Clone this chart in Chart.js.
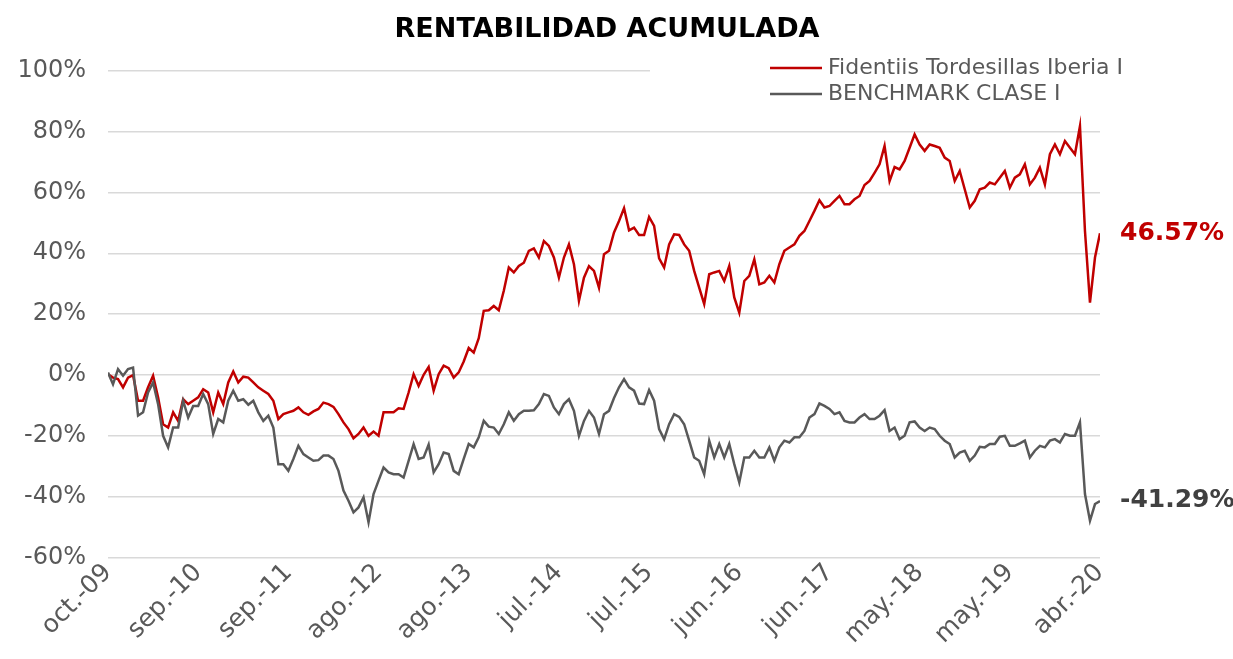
<!DOCTYPE html>
<html>
<head>
<meta charset="utf-8">
<title>Rentabilidad acumulada</title>
<script src="https://cdn.jsdelivr.net/npm/chart.js@4.4.1/dist/chart.umd.min.js"></script>
<style>
    html, body { margin: 0; padding: 0; background: #fff; }
    #wrap { width: 1233px; height: 659px; }
</style>
</head>
<body>
<div id="wrap"><canvas id="rent-chart"></canvas></div>
<script>
/* Rentabilidad acumulada: fondo vs benchmark */

const xLabels = ['oct.-09', 'sep.-10', 'sep.-11', 'ago.-12', 'ago.-13', 'jul.-14',
                 'jul.-15', 'jun.-16', 'jun.-17', 'may.-18', 'may.-19', 'abr.-20'];

const fundName = 'Fidentiis Tordesillas Iberia I';
const benchName = 'BENCHMARK CLASE I';

// rentabilidad acumulada del fondo, %
const fundValues = [
    0.3, -0.8, -1.3, -4.0, -0.8, 0.0, -8.4, -8.4, -4.0, -0.2,
    -7.3, -16.1, -17.2, -12.2, -15.0, -7.9, -9.5, -8.4, -7.3, -4.6,
    -5.7, -12.2, -5.7, -9.5, -2.4, 1.2, -2.4, -0.5, -0.8, -2.4,
    -4.0, -5.1, -6.2, -8.4, -14.4, -12.8, -12.2, -11.7, -10.6, -12.2,
    -13.0, -11.9, -11.1, -9.0, -9.5, -10.4, -12.8, -15.5, -17.7, -20.7,
    -19.3, -17.2, -19.9, -18.5, -19.9, -12.2, -12.2, -12.2, -10.9, -11.1,
    -5.7, 0.3, -3.5, 0.1, 2.7, -5.1, 0.3, 3.1, 2.3, -0.8,
    0.9, 4.5, 8.9, 7.4, 12.1, 21.1, 21.3, 22.7, 21.3, 27.7,
    35.3, 33.7, 35.8, 36.9, 40.8, 41.6, 38.6, 44.0, 42.4, 38.6,
    32.0, 38.6, 42.9, 36.4, 24.4, 32.0, 35.8, 34.2, 28.7, 39.7,
    40.8, 46.8, 50.6, 54.8, 47.5, 48.4, 46.0, 46.0, 51.9, 49.0,
    38.3, 35.3, 42.9, 46.2, 46.0, 42.9, 40.8, 34.2, 28.7, 23.3,
    33.1, 33.7, 34.2, 30.9, 35.8, 25.5, 20.5, 30.9, 32.6, 38.0,
    29.8, 30.4, 32.6, 30.4, 36.4, 40.8, 41.9, 42.9, 45.7, 47.3,
    50.6, 53.9, 57.4, 55.0, 55.5, 57.2, 58.8, 56.1, 56.1, 57.7,
    58.8, 62.4, 63.7, 66.4, 69.2, 75.2, 63.7, 68.3, 67.5, 70.3,
    74.6, 79.0, 75.7, 73.6, 75.7, 75.2, 74.6, 71.4, 70.3, 63.7,
    67.0, 61.0, 55.0, 57.2, 61.0, 61.5, 63.2, 62.6, 64.8, 67.0,
    61.5, 64.8, 65.9, 69.2, 62.6, 64.8, 68.1, 62.6, 72.5, 75.7,
    72.5, 76.8, 74.6, 72.5, 81.7, 47.3, 23.8, 38.6, 46.57
];

// rentabilidad acumulada del benchmark, %
const benchValues = [
    0.9, -3.0, 2.0, -0.2, 2.0, 2.5, -13.3, -12.2, -5.7, -2.4,
    -9.5, -19.9, -23.7, -17.2, -17.2, -8.4, -13.9, -10.1, -10.1, -6.2,
    -9.5, -19.3, -14.4, -15.5, -8.4, -5.1, -8.4, -7.9, -9.7, -8.4,
    -12.2, -15.0, -13.3, -17.2, -29.2, -29.2, -31.4, -27.5, -23.2, -25.9,
    -27.0, -28.1, -27.9, -26.4, -26.4, -27.5, -31.4, -37.9, -41.2, -45.0,
    -43.4, -40.1, -48.3, -39.0, -34.6, -30.3, -31.9, -32.5, -32.5, -33.6,
    -28.1, -22.6, -27.5, -27.0, -22.8, -31.9, -29.2, -25.4, -25.9, -31.4,
    -32.5, -27.5, -22.6, -23.7, -20.4, -15.0, -16.9, -17.2, -19.3, -16.1,
    -12.2, -15.0, -12.8, -11.7, -11.7, -11.5, -9.5, -6.2, -6.8, -10.6,
    -12.8, -9.5, -7.9, -11.7, -19.9, -15.0, -11.7, -13.9, -19.3, -12.8,
    -11.7, -7.5, -4.0, -1.3, -4.0, -5.1, -9.3, -9.5, -4.9, -8.4,
    -17.7, -21.0, -16.1, -12.8, -13.7, -16.1, -21.5, -27.0, -28.1, -32.5,
    -21.5, -27.0, -22.6, -27.0, -22.6, -29.2, -35.2, -27.0, -27.0, -24.8,
    -27.0, -27.0, -23.7, -28.1, -23.7, -21.5, -22.1, -20.4, -20.4, -18.3,
    -13.9, -12.8, -9.3, -10.1, -11.1, -12.8, -12.2, -15.0, -15.5, -15.5,
    -13.9, -12.8, -14.4, -14.4, -13.3, -11.5, -18.3, -17.2, -21.0, -19.9,
    -15.5, -15.2, -17.2, -18.3, -17.2, -17.7, -19.9, -21.5, -22.6, -27.0,
    -25.4, -24.8, -28.1, -26.4, -23.5, -23.7, -22.6, -22.6, -20.2, -19.9,
    -23.2, -23.2, -22.4, -21.5, -27.0, -24.8, -23.2, -23.7, -21.5, -21.0,
    -22.1, -19.3, -19.9, -19.9, -15.5, -39.0, -47.8, -42.3, -41.29
];

const FONT = '"DejaVu Sans", Verdana, sans-serif';
const RED = '#c00000';
const GREY = '#595959';

const labelStep = (fundValues.length - 1) / (xLabels.length - 1);

// leyenda dentro del area (tapa la rejilla como en Excel) + etiquetas finales
const extrasPlugin = {
    id: 'extras',
    beforeDatasetsDraw(chart) {
        const ctx = chart.ctx;
        const a = chart.chartArea;
        ctx.save();
        ctx.fillStyle = '#ffffff';
        ctx.fillRect(650, a.top - 14, a.right - 650 + 2, 40);

        const items = [
            { text: fundName, color: RED, y: 68 },
            { text: benchName, color: GREY, y: 94 },
        ];
        ctx.font = '22px ' + FONT;
        ctx.textBaseline = 'middle';
        ctx.textAlign = 'left';
        for (const it of items) {
            ctx.strokeStyle = it.color;
            ctx.lineWidth = 2.5;
            ctx.beginPath();
            ctx.moveTo(770, it.y);
            ctx.lineTo(822, it.y);
            ctx.stroke();
            ctx.fillStyle = GREY;
            ctx.fillText(it.text, 828, it.y);
        }
        ctx.restore();
    },
    afterDatasetsDraw(chart) {
        const ctx = chart.ctx;
        ctx.save();
        ctx.font = 'bold 25px ' + FONT;
        ctx.textBaseline = 'middle';
        ctx.textAlign = 'left';
        const colors = [RED, '#404040'];
        chart.data.datasets.forEach((ds, i) => {
            const meta = chart.getDatasetMeta(i);
            const pt = meta.data[meta.data.length - 1];
            const v = ds.data[ds.data.length - 1];
            ctx.fillStyle = colors[i];
            ctx.fillText(v.toFixed(2) + '%', pt.x + 20, pt.y);
        });
        ctx.restore();
    }
};

const ctx = document.getElementById('rent-chart');

new Chart(ctx.getContext('2d'), {
    type: 'line',
    data: {
        labels: fundValues.map((_, i) => i),
        datasets: [
            {
                label: fundName,
                data: fundValues,
                borderColor: RED,
                borderWidth: 2.5,
                pointRadius: 0,
                fill: false,
                tension: 0,
                order: 2,
            },
            {
                label: benchName,
                data: benchValues,
                borderColor: GREY,
                borderWidth: 2.5,
                pointRadius: 0,
                fill: false,
                tension: 0,
                order: 1,
            },
        ]
    },
    plugins: [extrasPlugin],
    options: {
        responsive: true,
        maintainAspectRatio: false,
        animation: false,
        layout: { padding: { left: 18, right: 37, top: 0, bottom: 0 } },
        scales: {
            x: {
                type: 'linear',
                min: 0,
                max: fundValues.length - 1,
                grid: { display: false, drawTicks: false },
                border: { display: false },
                // las etiquetas giradas pueden salirse, como en el original
                afterFit: s => { s.height = 101; s.paddingLeft = 0; s.paddingRight = 0; },
                ticks: {
                    stepSize: labelStep,
                    autoSkip: false,
                    minRotation: 45,
                    maxRotation: 45,
                    padding: 0,
                    labelOffset: 0,
                    color: GREY,
                    font: { family: FONT, size: 25 },
                    callback: v => xLabels[Math.round(v / labelStep)] || ''
                }
            },
            y: {
                min: -60,
                max: 100,
                grid: { color: '#d9d9d9', lineWidth: 1.5, drawTicks: false },
                border: { display: false },
                afterFit: s => { s.width = 90; },
                ticks: {
                    stepSize: 20,
                    padding: 22,
                    color: GREY,
                    font: { family: FONT, size: 24 },
                    callback: v => v + '%'
                }
            },
            // sitio a la derecha para las etiquetas finales
            yLabels: {
                position: 'right',
                grid: { display: false },
                border: { display: false },
                ticks: { display: false },
                afterFit: s => { s.width = 96; }
            }
        },
        plugins: {
            legend: { display: false },
            tooltip: { enabled: false },
            title: {
                display: true,
                text: 'RENTABILIDAD ACUMULADA',
                color: '#000000',
                font: { family: FONT, size: 27, weight: 'bold' },
                padding: { top: 14, bottom: 24 }
            }
        }
    }
});
</script>
</body>
</html>
